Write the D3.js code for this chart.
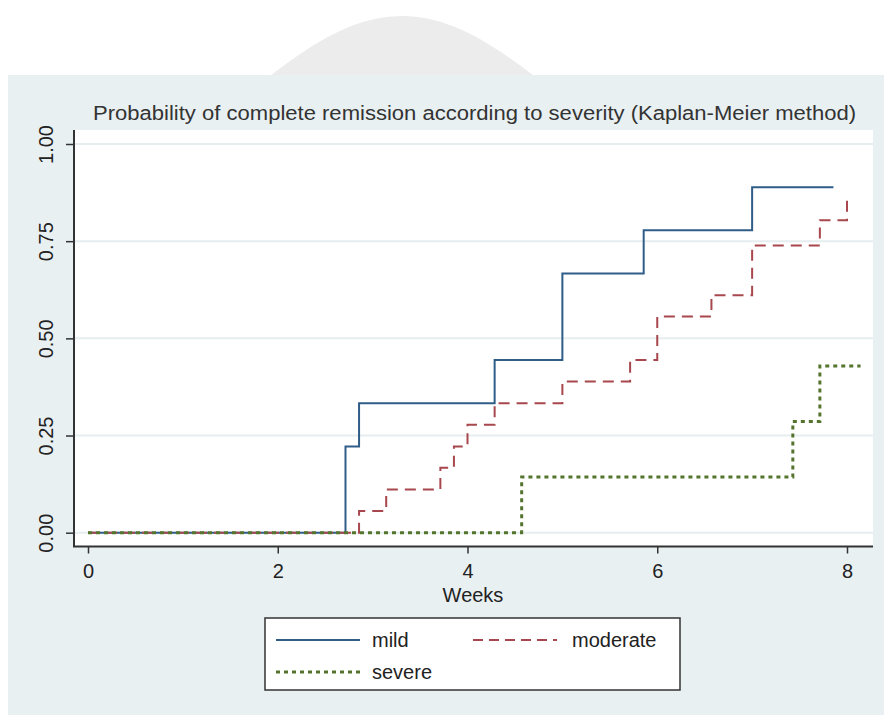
<!DOCTYPE html>
<html>
  <head>
    <title>Kaplan-Meier remission by severity</title>
    <script src="https://d3js.org/d3.v7.min.js"></script>
    <style>
      body { margin: 0; background: #fff; }
      svg { display: block; font-family: "Liberation Sans", Arial, sans-serif; }
      .tick text { fill: #222; font-size: 20px; }
    </style>
  </head>
  <body>
    <svg width="884" height="715"></svg>

    <script>
      // weeks at which each curve steps, and cumulative probability after the step
      var mildWeeks = [0, 2.714, 2.857, 4.286, 5.0, 5.857, 7.0, 7.857];
      var mildProb  = [0, 0.222, 0.333, 0.444, 0.667, 0.778, 0.889, 0.889];

      var moderateWeeks = [0, 2.857, 3.143, 3.714, 3.857, 4.0, 4.286, 5.0, 5.714, 6.0, 6.571, 7.0, 7.714, 8.0];
      var moderateProb  = [0, 0.056, 0.111, 0.167, 0.222, 0.278, 0.333, 0.389, 0.444, 0.556, 0.611, 0.739, 0.804, 0.871];

      var severeWeeks = [0, 4.571, 7.429, 7.714, 8.143];
      var severeProb  = [0, 0.143, 0.286, 0.429, 0.429];

      var xTicks = [0, 2, 4, 6, 8];
      var yTicks = [0, 0.25, 0.5, 0.75, 1];

      var series = [
        {name: "mild", weeks: mildWeeks, prob: mildProb, color: "#2f5d88", width: 2, dash: null},
        {name: "moderate", weeks: moderateWeeks, prob: moderateProb, color: "#a8474d", width: 2, dash: "11,7"},
        {name: "severe", weeks: severeWeeks, prob: severeProb, color: "#55752f", width: 3, dash: "4,4"}
      ];

      var svg = d3.select("svg");

      // faint watermark shape behind the panel
      svg.append("path")
        .attr("d", "M270,76 C302,52 348,16 402,16 C456,16 502,52 534,76 Z")
        .style("fill", "#ececec");

      // outer panel
      svg.append("rect")
        .attr("x", 8).attr("y", 75)
        .attr("width", 876).attr("height", 640)
        .style("fill", "#e9f0f2");

      var plotL = 74, plotR = 873, plotT = 130, plotB = 546.5;

      svg.append("rect")
        .attr("x", plotL).attr("y", plotT)
        .attr("width", plotR - plotL).attr("height", plotB - plotT)
        .style("fill", "#fff");

      var x = d3.scaleLinear().domain([0, 8]).range([88, 847]);
      var y = d3.scaleLinear().domain([0, 1]).range([532.7, 144]);

      // grid
      svg.selectAll("line.grid")
        .data(yTicks)
        .enter()
        .append("line")
          .attr("class", "grid")
          .attr("x1", plotL).attr("x2", plotR)
          .attr("y1", d => y(d)).attr("y2", d => y(d))
          .style("stroke", "#e6eef0")
          .style("stroke-width", 2);

      // title
      svg.append("text")
        .attr("x", 93).attr("y", 120)
        .attr("textLength", 763)
        .attr("lengthAdjust", "spacingAndGlyphs")
        .style("font-size", "20px")
        .style("fill", "#333")
        .text("Probability of complete remission according to severity (Kaplan-Meier method)");

      // axes
      var yAxis = svg.append("g")
        .attr("transform", `translate(${plotL},0)`)
        .call(d3.axisLeft(y).tickValues(yTicks).tickSize(8).tickPadding(12).tickFormat(d3.format(".2f")));
      yAxis.select(".domain").remove();
      yAxis.selectAll(".tick line").style("stroke", "#333").style("stroke-width", 1.5);
      yAxis.selectAll(".tick text")
        .attr("transform", "rotate(-90)")
        .attr("x", 0).attr("y", -21)
        .attr("dy", 0)
        .style("text-anchor", "middle");

      var xAxis = svg.append("g")
        .attr("transform", `translate(0,${plotB})`)
        .call(d3.axisBottom(x).tickValues(xTicks).tickSize(7).tickPadding(5).tickFormat(d3.format("d")));
      xAxis.select(".domain").remove();
      xAxis.selectAll(".tick line").style("stroke", "#333").style("stroke-width", 1.5);
      xAxis.selectAll(".tick text").attr("dy", "0.95em");

      svg.append("line")
        .attr("x1", plotL).attr("x2", plotL)
        .attr("y1", plotT).attr("y2", plotB)
        .style("stroke", "#333").style("stroke-width", 2);
      svg.append("line")
        .attr("x1", plotL - 1).attr("x2", plotR)
        .attr("y1", plotB).attr("y2", plotB)
        .style("stroke", "#333").style("stroke-width", 2);

      svg.append("text")
        .attr("x", 473).attr("y", 602)
        .style("text-anchor", "middle")
        .style("font-size", "20px")
        .style("fill", "#222")
        .text("Weeks");

      // step curves
      var line = d3.line()
        .x(d => x(d[0]))
        .y(d => y(d[1]))
        .curve(d3.curveStepAfter);

      svg.selectAll("path.km")
        .data(series)
        .enter()
        .append("path")
          .attr("class", "km")
          .attr("d", s => line(s.weeks.map((w, i) => [w, s.prob[i]])))
          .style("fill", "none")
          .style("stroke", s => s.color)
          .style("stroke-width", s => s.width)
          .style("stroke-dasharray", s => s.dash);

      // legend
      svg.append("rect")
        .attr("x", 265).attr("y", 618)
        .attr("width", 415).attr("height", 72)
        .style("fill", "#fff")
        .style("stroke", "#333")
        .style("stroke-width", 1.5);

      var legendPos = [
        {x: 276, y: 640},
        {x: 473, y: 640},
        {x: 276, y: 672}
      ];

      var legend = svg.selectAll("g.legend")
        .data(series)
        .enter()
        .append("g")
          .attr("class", "legend")
          .attr("transform", (d, i) => `translate(${legendPos[i].x},${legendPos[i].y})`);
      legend.append("line")
        .attr("x1", 0).attr("x2", 84)
        .style("stroke", d => d.color)
        .style("stroke-width", d => d.width)
        .style("stroke-dasharray", d => d.name == "moderate" ? "10,6" : d.dash);
      legend.append("text")
        .attr("x", (d, i) => i == 1 ? 99 : 96)
        .attr("y", 7)
        .style("font-size", "20px")
        .style("fill", "#222")
        .text(d => d.name);
    </script>
  </body>
</html>
